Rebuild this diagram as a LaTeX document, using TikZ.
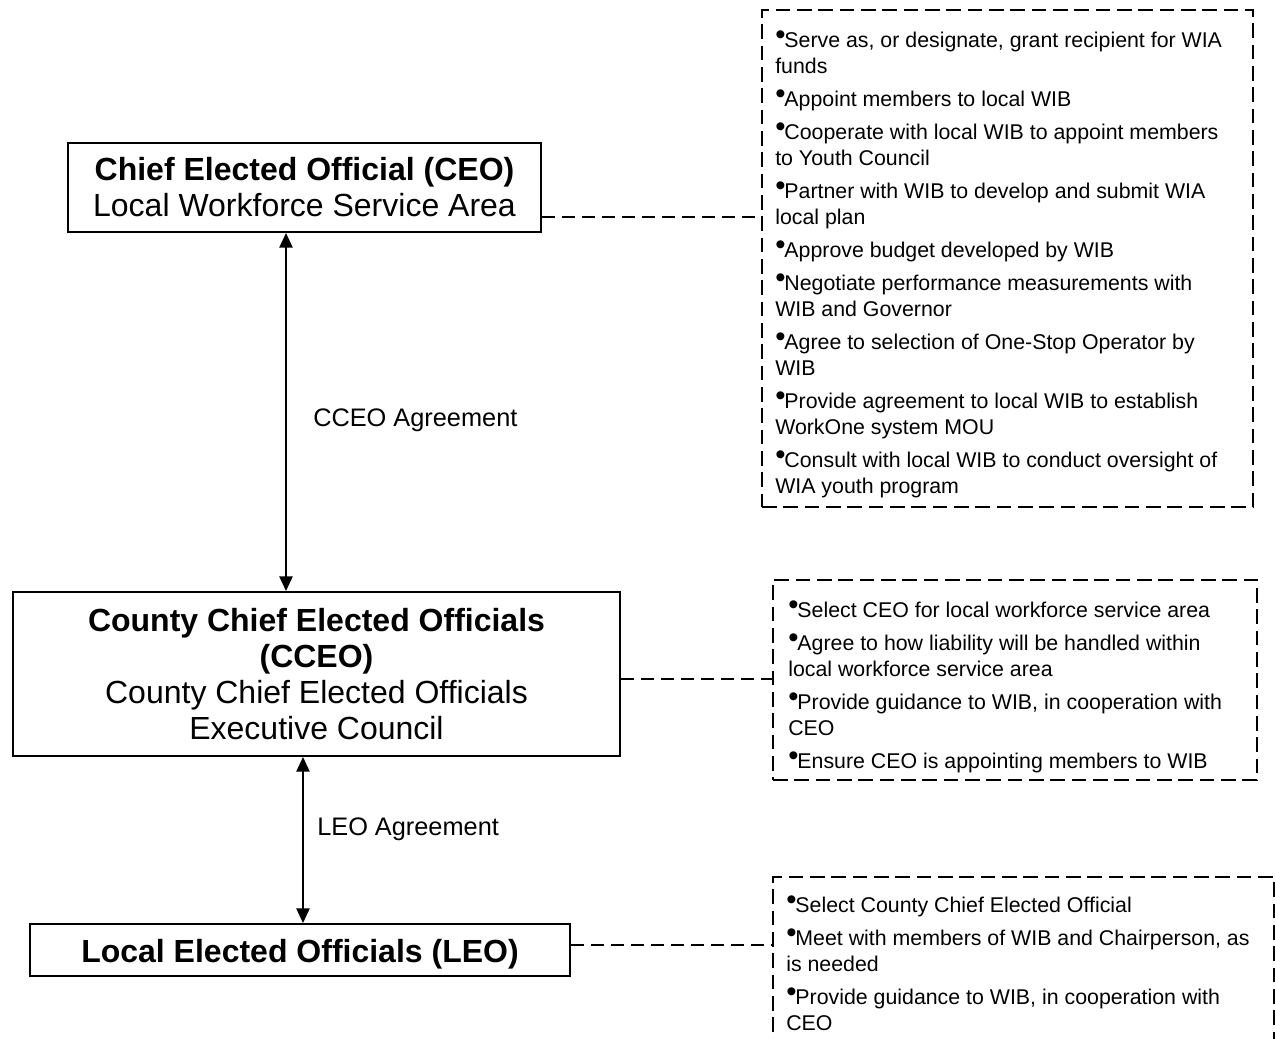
\documentclass[tikz,border=0pt]{standalone}
\usepackage{fontspec}
\setmainfont{Liberation Sans}
\usetikzlibrary{arrows.meta}
\newcommand{\bul}{\raisebox{2pt}{\fontsize{22}{22}\selectfont•}\kern-0.8pt}
\newcommand{\firstline}{\rule{0pt}{12pt}}
\begin{document}
\begin{tikzpicture}[x=0.75pt,y=-0.75pt,
  mainbox/.style={draw, line width=1.5pt, align=center, inner sep=0pt, font=\fontsize{24}{27}\selectfont},
  dbox/.style={draw, line width=1.5pt, dash pattern=on 11pt off 5pt, inner sep=0pt},
  listtext/.style={align=left, inner sep=0pt, anchor=north west, font=\fontsize{16}{19.5}\selectfont},
  link/.style={line width=1.2pt, dash pattern=on 10pt off 5pt},
  arr/.style={line width=1.1pt, {Triangle[width=10pt,length=11pt]}-{Triangle[width=10pt,length=11pt]}},
  lbl/.style={anchor=base west, inner sep=0pt, font=\fontsize{19}{23}\selectfont}]
\useasboundingbox (0,0) rectangle (1275,1039);
\clip (0,0) rectangle (1275,1039);

% main boxes
\node[mainbox, minimum width=354.75pt, minimum height=66.75pt] (ceo) at (304.5,187.5)
  {\textbf{Chief Elected Official (CEO)}\\Local Workforce Service Area};
\node[mainbox, minimum width=455.25pt, minimum height=123pt] (cceo) at (316.5,674)
  {\textbf{County Chief Elected Officials}\\\textbf{(CCEO)}\\County Chief Elected Officials\\Executive Council};
\node[mainbox, minimum width=405pt, minimum height=39pt, text height=18.8pt, text depth=0pt] (leo) at (300,950)
  {\textbf{Local Elected Officials (LEO)}};

% dashed duty boxes
\node[dbox, minimum width=368.25pt, minimum height=372.75pt] (r1) at (1007.5,258.5) {};
\node[dbox, minimum width=363pt, minimum height=150pt] (r2) at (1015,680) {};
\node[dbox, minimum width=375.75pt, minimum height=167.25pt] (r3) at (1023.5,988.5) {};

\node[listtext] (t1) at (775,31) {\firstline\bul Serve as, or designate, grant recipient for WIA\\funds\\[5.25pt]
\bul Appoint members to local WIB\\[5.25pt]
\bul Cooperate with local WIB to appoint members\\to Youth Council\\[5.25pt]
\bul Partner with WIB to develop and submit WIA\\local plan\\[5.25pt]
\bul Approve budget developed by WIB\\[5.25pt]
\bul Negotiate performance measurements with\\WIB and Governor\\[5.25pt]
\bul Agree to selection of One-Stop Operator by\\WIB\\[5.25pt]
\bul Provide agreement to local WIB to establish\\WorkOne system MOU\\[5.25pt]
\bul Consult with local WIB to conduct oversight of\\WIA youth program};

\node[listtext] (t2) at (788,601) {\firstline\bul Select CEO for local workforce service area\\[5.25pt]
\bul Agree to how liability will be handled within\\local workforce service area\\[5.25pt]
\bul Provide guidance to WIB, in cooperation with\\CEO\\[5.25pt]
\bul Ensure CEO is appointing members to WIB};

\node[listtext] (t3) at (786,896) {\firstline\bul Select County Chief Elected Official\\[5.25pt]
\bul Meet with members of WIB and Chairperson, as\\is needed\\[5.25pt]
\bul Provide guidance to WIB, in cooperation with\\CEO};

% connectors
\coordinate (x1) at (286,0);
\coordinate (x2) at (303,0);
\draw[arr] (ceo.south -| x1) -- (cceo.north -| x1);
\draw[arr] (cceo.south -| x2) -- (leo.north -| x2);

\node[lbl] (l1) at (313,426) {CCEO Agreement};
\node[lbl] (l2) at (317,835) {LEO Agreement};

\coordinate (y1) at (0,217);
\coordinate (y2) at (0,679);
\coordinate (y3) at (0,945);
\draw[link] (ceo.east |- y1) -- (r1.west |- y1);
\draw[link] (cceo.east |- y2) -- (r2.west |- y2);
\draw[link] (leo.east |- y3) -- (r3.west |- y3);
\end{tikzpicture}
\end{document}
